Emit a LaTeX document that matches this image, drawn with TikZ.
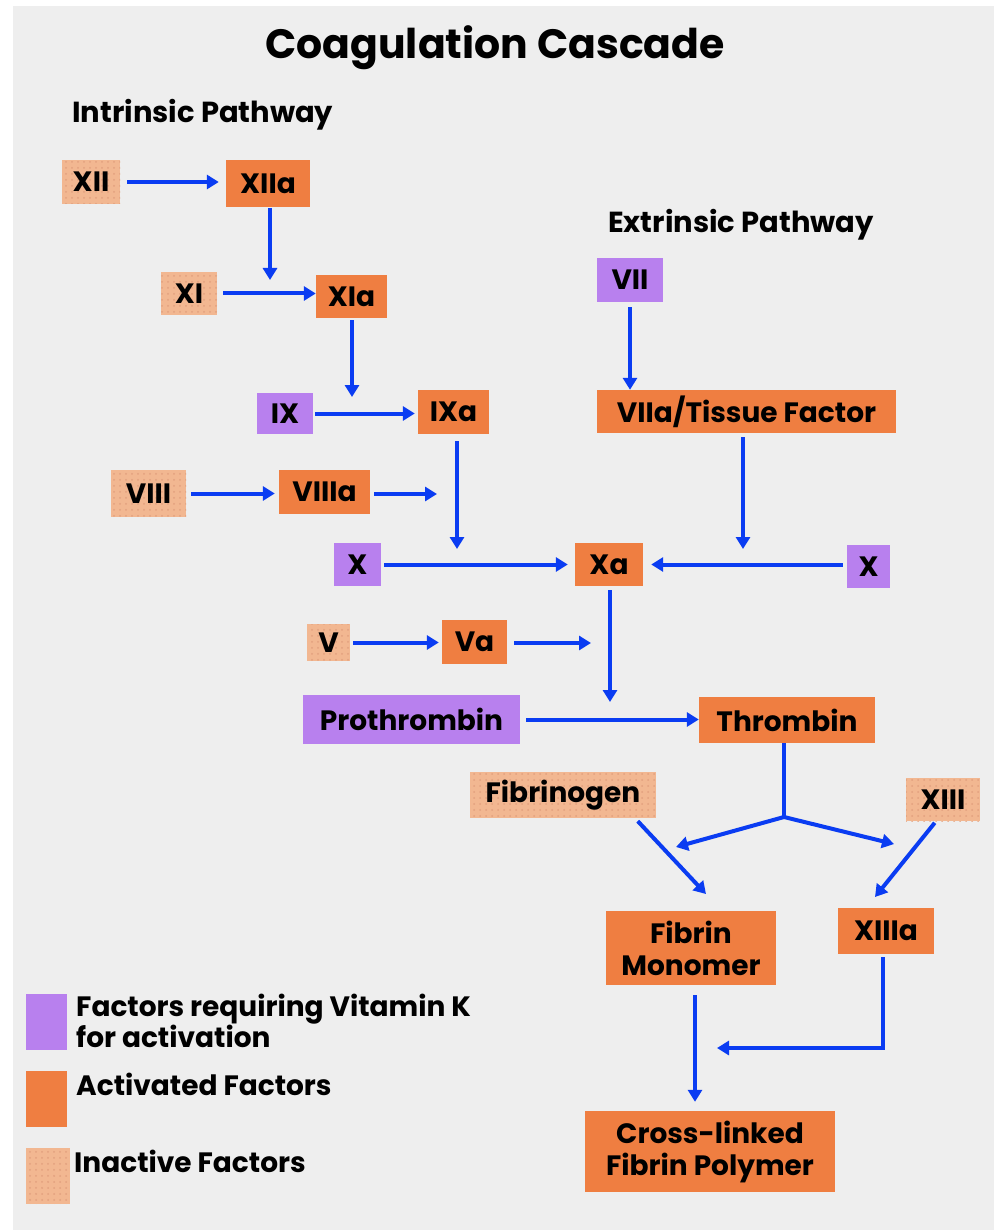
\documentclass[tikz,border=0pt]{standalone}
\usepackage{fontspec}
\setmainfont{Poppins}
\usetikzlibrary{arrows.meta,patterns.meta}
\definecolor{bgc}{HTML}{EEEEEE}
\definecolor{act}{HTML}{EF7E41}
\definecolor{vitk}{HTML}{B880EE}
\definecolor{inact}{HTML}{F2B791}
\definecolor{dotc}{HTML}{E2A07E}
\definecolor{arr}{HTML}{0A3CF2}
\begin{document}
\begin{tikzpicture}[x=1pt,y=-1pt,
 box/.style={inner sep=0pt, font=\fontsize{28}{32}\selectfont\bfseries, align=center, text=black},
 actbox/.style={box, fill=act},
 vkbox/.style={box, fill=vitk},
 inbox/.style={box, fill=inact, postaction={pattern={Dots[distance=6pt,radius=1pt]}, pattern color=dotc}},
 conn/.style={draw=arr, line width=4pt, -{Triangle[length=12pt,width=14pt]}},
 plainline/.style={draw=arr, line width=4pt},
 lab/.style={inner sep=0pt, font=\fontsize{28}{31}\selectfont\bfseries, align=left},
]
\useasboundingbox (0,0) rectangle (994,1230);
\fill[white] (0,0) rectangle (994,1230);
\fill[bgc] (13,6) rectangle (994,1230);

% title and labels
\node[lab, anchor=base, font=\fontsize{41}{46}\selectfont\bfseries] (title) at (495,59) {Coagulation Cascade};
\node[lab, anchor=base west, font=\fontsize{29}{31}\selectfont\bfseries] (intr) at (72,123) {Intrinsic Pathway};
\node[lab, anchor=base west, font=\fontsize{29}{31}\selectfont\bfseries] (extr) at (608,233) {Extrinsic Pathway};

% intrinsic
\node[inbox, minimum width=58pt, minimum height=44pt] (XII) at (91,182) {XII};
\node[actbox, minimum width=84pt, minimum height=47pt] (XIIa) at (268,183.5) {XIIa};
\node[inbox, minimum width=56pt, minimum height=43pt] (XI) at (189,293.5) {XI};
\node[actbox, minimum width=71pt, minimum height=43pt] (XIa) at (351.5,296.5) {XIa};
\node[vkbox, minimum width=56pt, minimum height=41pt] (IX) at (285,413.5) {IX};
\node[actbox, minimum width=71pt, minimum height=44pt] (IXa) at (453.5,412) {IXa};
\node[inbox, minimum width=75pt, minimum height=47pt] (VIII) at (148.5,493.5) {VIII};
\node[actbox, minimum width=91pt, minimum height=44pt] (VIIIa) at (324.5,492) {VIIIa};
\node[vkbox, minimum width=47pt, minimum height=43pt] (Xl) at (357.5,564.5) {X};
\node[actbox, minimum width=68pt, minimum height=43pt] (Xa) at (609,564.5) {Xa};
\node[vkbox, minimum width=43pt, minimum height=43pt] (Xr) at (868.5,566.5) {X};
\node[inbox, minimum width=43pt, minimum height=37pt] (V) at (328.5,642.5) {V};
\node[actbox, minimum width=65pt, minimum height=44pt] (Va) at (474.5,642) {Va};
\node[vkbox, minimum width=217pt, minimum height=49pt] (Pro) at (411.5,719.5) {Prothrombin};
\node[actbox, minimum width=176pt, minimum height=46pt] (Thr) at (787,720) {Thrombin};
\node[inbox, minimum width=186pt, minimum height=46pt] (Fbg) at (563,795) {Fibrinogen};
\node[inbox, minimum width=74pt, minimum height=43pt] (XIII) at (943,799.5) {XIII};
\node[actbox, minimum width=170pt, minimum height=74pt] (FM) at (691,948) {Fibrin\\Monomer};
\node[actbox, minimum width=96pt, minimum height=46pt] (XIIIa) at (886,931) {XIIIa};
\node[actbox, minimum width=250pt, minimum height=81pt] (Pol) at (710,1151.5) {Cross-linked\\Fibrin Polymer};
% extrinsic
\node[vkbox, minimum width=66pt, minimum height=44pt] (VII) at (630,280) {VII};
\node[actbox, minimum width=299pt, minimum height=43pt] (VIIa) at (746.5,411.5) {VIIa/Tissue Factor};

% legend
\node[vkbox, minimum width=41pt, minimum height=56pt] (L1) at (46.5,1022) {};
\node[actbox, minimum width=41pt, minimum height=56pt] (L2) at (46.5,1099) {};
\node[inbox, minimum width=44pt, minimum height=56pt] (L3) at (48,1176) {};
\node[lab, anchor=north west] (T1) at (76,994) {Factors requiring Vitamin K\\for activation};
\node[lab, anchor=base west] (T2) at (76,1095) {Activated Factors};
\node[lab, anchor=base west] (T3) at (74,1172) {Inactive Factors};

% free ends
\coordinate (e1) at (270,280);
\coordinate (e2) at (352,397);
\coordinate (e3) at (437,494);
\coordinate (e4) at (457,549);
\coordinate (e5) at (743,549);
\coordinate (e6) at (591,643);
\coordinate (e7) at (610,702);
\coordinate (br) at (784,817);
\coordinate (e8) at (676,847);
\coordinate (e9) at (894,844);
\coordinate (f1) at (635,822);
\coordinate (f2) at (706,894);
\coordinate (g1) at (936,822);
\coordinate (g2) at (875,897);
\coordinate (fx) at (695,1000);
\coordinate (h1) at (883,1048);
\coordinate (h2) at (717,1048);

% connectors
\draw[conn, shorten <=7pt, shorten >=7pt] (XII.east) -- (XII.east -| XIIa.west);
\draw[conn, shorten <=1pt] (XIIa.south -| e1) -- (e1);
\draw[conn, shorten <=6pt] (XI.east) -- (XI.east -| XIa.west);
\draw[conn, shorten <=2pt] (XIa.south -| e2) -- (e2);
\draw[conn, shorten <=2pt, shorten >=3pt] (IX.east) -- (IX.east -| IXa.west);
\draw[conn, shorten <=5pt, shorten >=4pt] (VIII.east) -- (VIII.east -| VIIIa.west);
\draw[conn, shorten <=4pt] (VIIIa.east |- e3) -- (e3);
\draw[conn, shorten <=7pt] (IXa.south -| e4) -- (e4);
\draw[conn, shorten <=3pt, shorten >=7pt] (Xl.east) -- (Xl.east -| Xa.west);
\draw[conn, shorten <=4pt, shorten >=8pt] (Xr.west |- Xa.east) -- (Xa.east);
\draw[conn, shorten <=5pt] (VII.south) -- (VII.south |- VIIa.north);
\draw[conn, shorten <=4pt] (VIIa.south -| e5) -- (e5);
\draw[conn, shorten <=3pt, shorten >=3pt] (V.east) -- (V.east -| Va.west);
\draw[conn, shorten <=7pt] (Va.east |- e6) -- (e6);
\draw[conn, shorten <=4pt] (Xa.south -| e7) -- (e7);
\draw[conn, shorten <=6pt] (Pro.east) -- (Pro.east -| Thr.west);
\draw[plainline] (Thr.south -| br) -- (br);
\draw[conn, line cap=round] (br) -- (e8);
\draw[conn, line cap=round] (br) -- (e9);
\draw[conn, shorten <=4pt] (Fbg.south -| f1) -- (f2);
\draw[conn, shorten <=2pt] (XIII.south -| g1) -- (g2);
\draw[conn, shorten <=10pt, shorten >=9pt] (FM.south -| fx) -- (Pol.north -| fx);
\draw[conn, shorten <=3pt] (XIIIa.south -| h1) -- (h1) -- (h2);
\end{tikzpicture}
\end{document}
